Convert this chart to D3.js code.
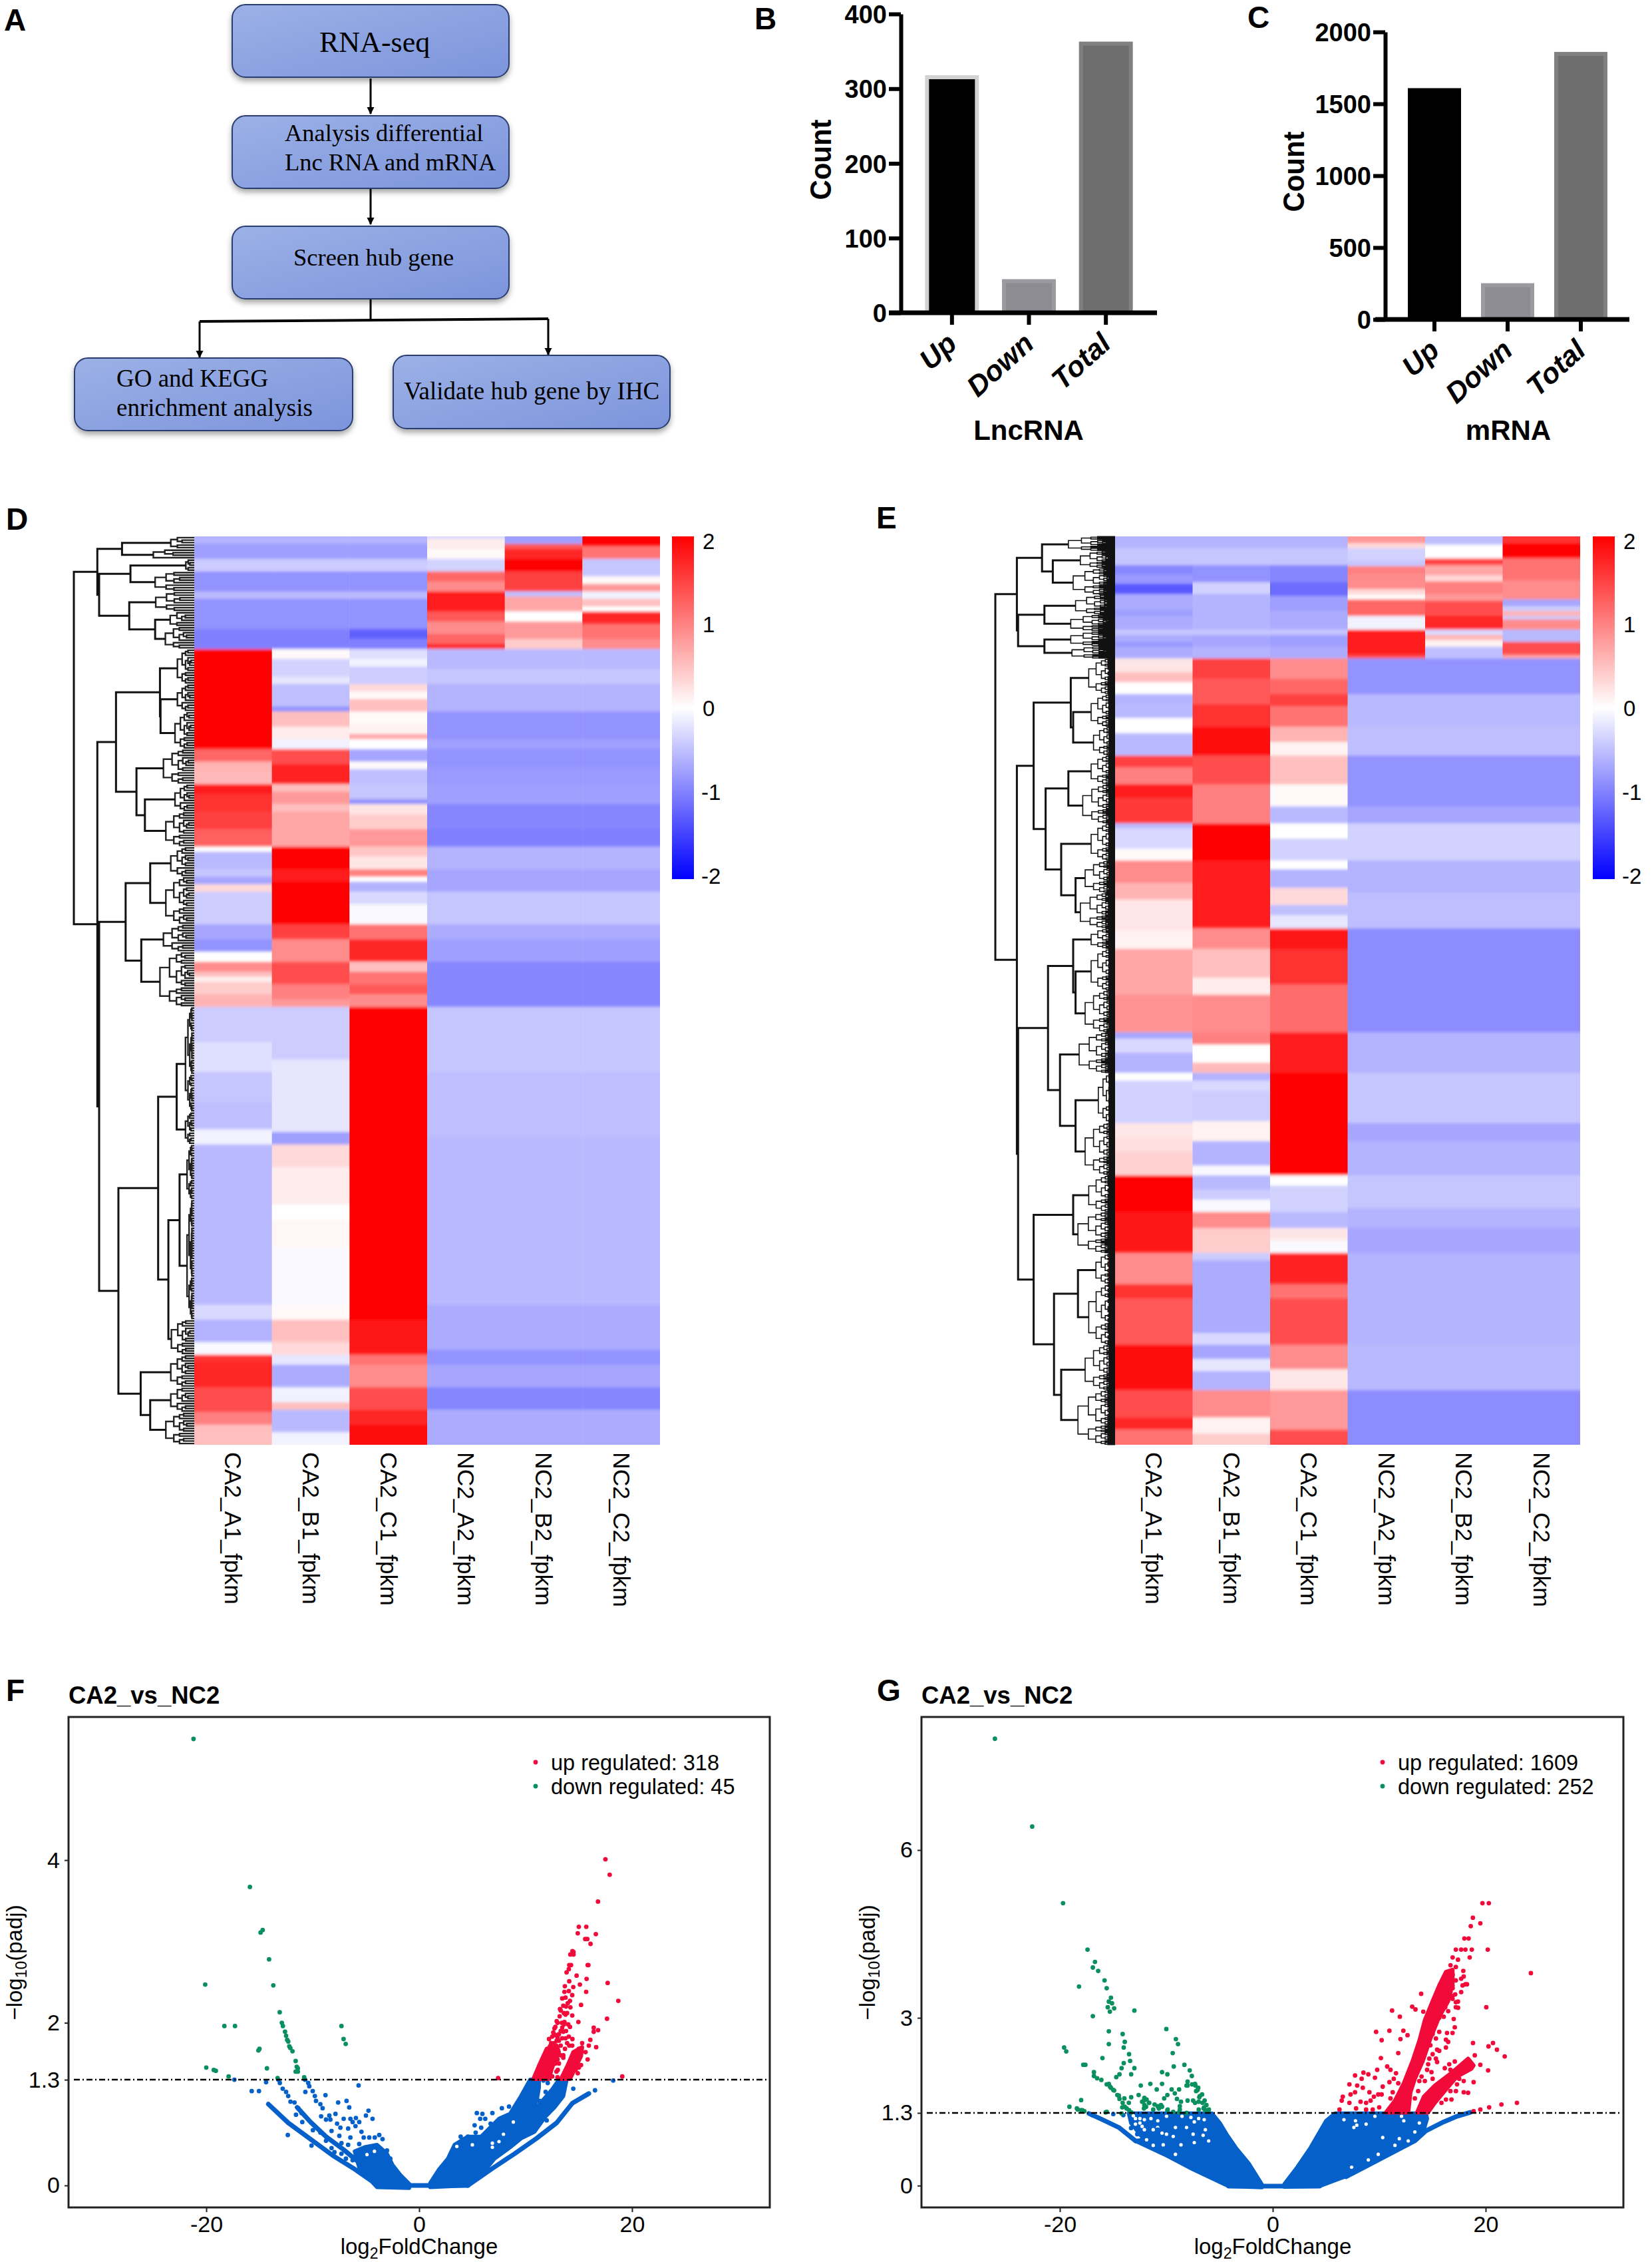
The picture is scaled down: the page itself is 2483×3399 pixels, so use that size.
<!DOCTYPE html>
<html>
<head>
<meta charset="utf-8">
<script src="https://cdnjs.cloudflare.com/ajax/libs/d3/7.8.5/d3.min.js"></script>
<style>
  html, body { margin: 0; background: #fff; }
  text { font-family: "Liberation Sans", Arial, sans-serif; fill: #000; }
  .serif { font-family: "Liberation Serif", "Times New Roman", serif; }
</style>
</head>
<body>
<svg id="fig" width="2483" height="3399"></svg>
<script>
// ---- bars B and C
const barCats = ["Up", "Down", "Total"];
const lncCounts = [318, 45, 363];
const mrnaCounts = [1609, 252, 1861];
const lncTicks = [0, 100, 200, 300, 400];
const mrnaTicks = [0, 500, 1000, 1500, 2000];

// ---- heatmaps: each column is a list of [last row of stripe, z score]
const hmCols = ["CA2_A1_fpkm", "CA2_B1_fpkm", "CA2_C1_fpkm", "NC2_A2_fpkm", "NC2_B2_fpkm", "NC2_C2_fpkm"];
const zTicks = [2, 1, 0, -1, -2];

const dRows = 363;
const dA1 = [[3,-.6],[9,-.75],[14,-.4],[22,-.85],[25,-.55],[37,-.85],[45,-1],[85,2],[90,1.2],[94,.6],[99,.55],[103,1.8],[110,1.6],[117,1.5],[124,1.25],[126,0],[133,-.55],[136,-.45],[139,-.7],[142,.3],[155,-.4],[161,-.7],[166,-.85],[170,0],[174,.9],[176,.5],[178,.1],[183,.4],[188,.6],[202,-.4],[214,-.25],[226,-.45],[237,-.5],[243,-.1],[307,-.55],[313,-.3],[322,-.6],[327,-.05],[330,1.6],[340,1.7],[350,1.4],[355,1],[363,.5]];
const dB1 = [[3,-.6],[9,-.75],[14,-.4],[22,-.85],[25,-.55],[37,-.85],[45,-1],[49,.05],[56,-.35],[59,-.2],[68,-.5],[70,-.85],[76,.5],[81,.15],[85,-.1],[91,1.4],[99,1.75],[102,.5],[107,.8],[110,.5],[117,.7],[124,.7],[133,2],[138,1.8],[155,2],[161,1.5],[170,.9],[179,1.4],[185,1],[188,.8],[209,-.4],[238,-.2],[243,-.75],[252,.3],[267,.15],[273,0],[284,.06],[307,-.05],[313,.05],[322,.5],[327,.3],[331,-.2],[340,-.65],[346,-.1],[349,.5],[358,-.55],[363,-.1]];
const dC1 = [[3,-.6],[9,-.75],[14,-.4],[22,-.85],[25,-.55],[37,-.85],[41,-1.25],[45,-1],[49,-.25],[52,-.1],[59,-.4],[62,.3],[65,.05],[70,.5],[75,.05],[79,.1],[81,.7],[85,0],[90,-.7],[93,.05],[99,-.5],[105,-.45],[107,-.85],[111,.2],[117,.4],[124,.8],[128,.45],[133,.2],[136,1],[138,0],[142,-.6],[147,-.3],[155,-.05],[161,1.1],[170,1.7],[174,.5],[179,1.1],[183,1.3],[188,.9],[313,2],[327,1.85],[331,1.1],[340,.9],[349,1.4],[355,1.7],[363,1.9]];
const dA2Top = [[1,-.3],[5,.15],[9,.05],[14,-.35],[18,1.2],[22,.9],[30,1.8],[34,1.3],[39,.9],[43,1.2],[45,1.7]];
const dB2Top = [[3,-.75],[5,1.3],[9,1.7],[14,2],[22,1.5],[24,-.5],[30,.7],[34,0],[41,.8],[45,.4]];
const dC2Top = [[4,2],[9,1.1],[16,-.45],[19,.05],[22,.8],[25,-.1],[28,.5],[30,0],[35,1.7],[41,1.1],[45,.9]];
const dNcLow = [[53,-.55],[59,-.45],[70,-.6],[81,-.85],[85,-.75],[92,-.85],[99,-.8],[107,-.75],[117,-.95],[124,-1],[133,-.6],[142,-.7],[155,-.45],[161,-.65],[170,-.75],[188,-.95],[214,-.45],[240,-.5],[307,-.55],[325,-.65],[331,-.85],[340,-.7],[349,-.95],[363,-.65]];

const eRows = 1861;
const eA1 = [[24,-.6],[59,-.45],[77,-.95],[97,-.8],[118,-1.3],[150,-.65],[163,-.75],[191,-.65],[202,-.45],[216,-.65],[226,-.8],[250,-.65],[278,.2],[299,.5],[323,0],[344,-.6],[372,-.55],[403,0],[449,-.55],[473,1.5],[508,1],[536,1.8],[588,1.55],[598,-.55],[640,-.3],[664,.05],[710,.9],[744,.6],[807,.2],[845,.1],[939,.7],[1016,.85],[1029,-.7],[1058,-.3],[1099,-.6],[1115,0],[1202,-.35],[1231,.2],[1260,.25],[1309,.35],[1384,2],[1468,1.85],[1532,.9],[1561,1.6],[1656,1.3],[1749,1.9],[1805,1.4],[1830,1.7],[1861,1.1]];
const eB1 = [[24,-.6],[59,-.45],[94,-.85],[118,-.35],[191,-.6],[202,-.45],[226,-.7],[250,-.6],[292,1.5],[344,1.3],[390,1.6],[449,1.9],[508,1.4],[588,1],[664,2],[803,1.8],[845,.9],[904,.5],[939,.15],[1016,.9],[1041,1],[1078,0],[1099,.55],[1115,-.6],[1136,-.3],[1198,-.4],[1239,.1],[1289,-.6],[1309,-.05],[1338,-.55],[1359,-.4],[1384,-.05],[1417,.9],[1468,.4],[1483,-.4],[1632,-.65],[1656,-.3],[1685,-.7],[1710,-.2],[1749,-.6],[1805,.9],[1838,.1],[1861,.4]];
const eC1 = [[24,-.6],[59,-.45],[94,-.95],[122,-1.15],[153,-.75],[191,-.65],[202,-.45],[226,-.75],[250,-.65],[292,.9],[323,1.2],[348,1.5],[390,1.1],[421,.6],[449,.1],[508,.5],[553,.05],[588,-.55],[619,0],[664,-.35],[682,0],[720,-.6],[755,.3],[776,-.5],[803,-.2],[845,1.85],[918,1.6],[1016,1.15],[1099,1.8],[1198,2],[1309,1.95],[1330,0],[1384,-.35],[1417,-.55],[1442,.2],[1468,-.05],[1532,1.75],[1561,1.1],[1656,1.4],[1706,.9],[1749,.2],[1830,.8],[1861,1.4]];
const eA2Top = [[14,.8],[24,.3],[49,-.35],[61,-.45],[77,1],[108,.9],[120,.3],[129,0],[163,1.2],[191,-.1],[243,1.8],[250,1.4]];
const eB2Top = [[17,-.5],[45,0],[59,1.5],[80,.7],[92,.3],[118,1],[132,.8],[163,1.4],[191,1.7],[202,-.3],[212,.6],[226,.1],[250,-.5]];
const eC2Top = [[14,1.6],[45,2],[90,1.1],[129,.9],[143,-.7],[153,-.4],[163,.6],[170,-.4],[191,.9],[216,-.55],[243,1.4],[250,.7]];
const eNcLow = [[323,-.85],[390,-.55],[449,-.5],[553,-.85],[588,-.7],[664,-.35],[730,-.6],[803,-.5],[1016,-.9],[1099,-.6],[1202,-.45],[1239,-.7],[1309,-.6],[1376,-.45],[1417,-.6],[1468,-.7],[1656,-.6],[1749,-.55],[1861,-.9]];

// dendrograms: [height, childA, childB], a lowest read cluster is [height, firstRow, lastRow]
const treeD = [100,
  [80.5, [60,[19.5,0,5],[34,5,9]],
    [79, [53,[7,9,14],[32.5,14,22]], [54,[32,22,30],[32.5,[20,30,36],[24,36,45]]]]],
  [80.5,
    [65, [28.5,[14,45,59],[28,[14,59,70],[16,70,85]]], [48,[25.6,85,99],[41,[16,99,110],[23.6,110,124]]]],
    [79,
      [57, [36.6,[19.5,124,136],[23.6,136,155]], [44,[25.6,155,166],[28.5,166,188]]],
      [63,
        [30, [14.6,[7.3,188,230],[7.3,230,243]], [21.5,[12.2,[6,243,265],[6,265,313]],[19,313,327]]],
        [44.5, [19.5,327,340], [36.6,[19.5,340,350],[23.6,350,363]]]]]]];
const treeE = [100,
  [82, [61,[39,0,30],[52,[29,30,65],[35,65,120]]],
    [81, [59,[33,120,160],[37,160,195]], [59,[37,195,225],[36,225,250]]]],
  [82,
    [68, [37,[22,250,323],[35,[20,323,390],[18,390,449]]],
      [58, [39,[20,449,508],[27,508,588]], [45,[20,588,664],[33,[25,664,730],[29,730,803]]]]],
    [81,
      [56, [35,[20,803,845],[33,[20,845,930],[25,930,1016]]], [46,[30,1016,1099],[33,[14,1099,1202],[25,1202,1309]]]],
      [68, [35,[22,1309,1384],[31,1384,1468]],
        [51, [31,[16,1468,1532],[22,1532,1656]], [45,[25,1656,1749],[31,1749,1861]]]]]]];

// ---- volcano F: [log2FoldChange, -log10(padj)]
const fTicksX = [-20, 0, 20];
const fTicksY = [0, 1.3, 2, 4];
const fDown = [[-21.2,5.49],[-15.9,3.67],[-14.9,3.11],[-14.7,3.14],[-14.1,2.78],[-13.7,2.46],[-20.1,2.47],[-13.1,2.13],[-12.9,2],[-12.8,1.96],[-18.3,1.96],[-17.3,1.96],[-12.6,1.89],[-12.5,1.84],[-12.4,1.79],[-12.3,1.77],[-12.2,1.71],[-12.1,1.69],[-11.9,1.65],[-15,1.68],[-15.1,1.66],[-7.3,1.96],[-7.1,1.8],[-6.9,1.74],[-11.6,1.53],[-11.5,1.46],[-11.4,1.44],[-11.6,1.4],[-11.4,1.4],[-20,1.45],[-19.3,1.42],[-19.1,1.41],[-14.3,1.44],[-17.9,1.34],[-13.3,1.32],[-10.8,1.33]];
const fUp = [[17.5,4.01],[17.9,3.82],[16.8,3.49],[15,3.18],[15.7,3.18],[14.9,3.1],[16.6,3.09],[15.6,3.03],[15.8,3.03],[16.1,2.97],[14.4,2.88],[14.5,2.87],[14.2,2.84],[14.5,2.84],[15.9,2.71],[14.1,2.71],
  [12.5,1.83],[12.71,1.93],[12.92,2.02],[13.23,2.17],[13.54,2.21],[13.75,2.31],[14.06,2.39],[14.38,2.34],[13.65,2.38],[13.44,2.3],[14.17,2.27],[13.96,2.24],[14.21,2.19],[13.75,2.1],[13.65,2.01],[13.44,1.94],[13.54,1.89],[13.13,1.86],[13.44,1.81],[12.92,1.78],[12.71,1.75],[12.29,1.71],[13.13,1.78],[13.75,1.81],[14.06,1.83],[14.17,1.95],[14.38,2.09],[14.96,2.01],[15.21,2.22],[15.69,2.38],[15.1,2.47],[14.48,2.44],[13.69,2.45],[14.1,2.51],[14.79,2.58],[15.73,2.54],[13.85,2.62],[14.06,2.66],[14.27,2.71],[15.83,2.71],[17.71,2.49],[18.71,2.27],[17.65,2.05],[16.4,1.94],[16.81,1.91],[16.4,1.89],[16.08,1.79],[15.94,1.72],[16.63,1.7],[15.31,1.75],[14.38,1.72],[13.54,1.6],[13.54,1.57],[13.02,1.42],[13.13,1.5],[12.5,1.53],[12.19,1.57],[11.88,1.4],[12.5,1.34],[14.9,1.38],[15.21,1.48],[15.83,1.55],[7.42,1.32],[19.08,1.34],[15.63,1.64],[15,1.68],
  [12.2,1.8],[12.4,1.75],[12.6,1.88],[12.8,1.95],[13,2],[13.2,2.08],[13.3,2.15],[13.4,2],[13.3,1.9],[13,1.82],[12.8,1.85],[13.6,2.12],[13.8,2.2],[13.9,2.12],[13.6,1.98],[13.8,1.9],[14,1.98],[13.9,1.75],[13.7,1.68],[13.3,1.72],[14.1,1.72],[12.6,1.65],[13,1.55],[13.3,1.6],[12.8,1.5],[12.9,1.4],[13,1.33],[11.6,1.45],[14.4,1.8],[14.6,1.62],[14.8,1.55],[14.3,1.5],[15,1.45],[14.7,1.42]];
const fUpBands = [
  [[10.73,1.31],[11.35,1.5],[11.98,1.68],[12.92,1.72],[13.13,1.64],[12.5,1.45],[12.19,1.31]],
  [[13.33,1.31],[13.96,1.48],[14.48,1.64],[15.31,1.7],[15.21,1.59],[14.58,1.42],[14.17,1.31]]];
const fNs = [[-17.36,1.3],[-15.73,1.16],[-15.05,1.16],[-14.38,1.27],[-5.69,1.23],[-12.34,.62],[-10.11,.49],[-13.23,1.3],[-13.09,1.26],[-12.82,1.19],[-12.5,1.15],[-12.3,1.1],[-12.09,1.03],[-11.71,1.02],[-11.36,.95],[-11.05,.89],[-11.57,.87],[-10.98,.78],[-10.73,1.3],[-10.42,1.26],[-10.32,1.22],[-10.69,1.15],[-10,1.16],[-9.8,1.1],[-9.69,1.04],[-9.28,1],[-9.07,.95],[-8.8,1.11],[-9.21,.85],[-8.44,.86],[-8.34,.81],[-8.75,.81],[-7.86,.88],[-7.61,1.02],[-6.82,1.04],[-6.57,.96],[-7.09,.82],[-7.71,.76],[-7.4,.71],[-8.23,.67],[-7.5,.61],[-6.46,.82],[-5.94,.83],[-6.25,.78],[-5.63,.78],[-5.98,.73],[-4.76,.92],[-5,.86],[-4.38,.82],[-3.75,.62],[-3.44,.57],[-4.17,.59],[-5.42,.66],[-6.67,.7],[-6.46,.59],[-5.21,.59],[-4.69,.59],[-3.02,.43],[-2.71,.33],[-5.63,.51],[-6.67,.5],[-7.3,.52],[-8.23,.46],[-7.96,.41],[-7.3,.39],[-8.75,.55],[-9.98,.68],[-9.28,.65],[-6.88,.33],[-6.25,.31],
  [18.23,1.29],[16.52,1.17],[14.48,1.19],[11.67,1.29],[12.08,1.26],[11.88,1.15],[11.31,1.04],[10.63,.92],[11.98,.8],[5.42,.89],[5.94,.88],[6.88,.89],[7.77,.95],[8.44,.97],[5.73,.82],[6.21,.82],[6.71,.76],[5.21,.74],[5.83,.71],[5.31,.65],[3.9,.6],[4.58,.6]];
const fNsMass = [
  [[1.04,.03],[1.88,.2],[2.71,.33],[3.33,.5],[4.58,.6],[5.83,.6],[7.5,.82],[8.54,.88],[9.58,1.1],[10.42,1.3],[11.25,1.3],[11.25,1.2],[11.04,1.04],[9.79,.82],[8.96,.7],[11.25,.99],[12.5,1.18],[13.13,1.3],[13.85,1.3],[13.54,1.1],[12.71,.96],[11.88,.85],[10.83,.66],[9.58,.58],[8.54,.47],[7.08,.33],[6.25,.2],[4.38,0],[1.04,-.02]],
  [[-.94,.02],[-1.78,.13],[-2.5,.25],[-3.03,.39],[-3.96,.5],[-5.11,.47],[-6.05,.42],[-5.63,.22],[-3.96,-.02],[-.94,-.03]]];
const fNsTrails = [
  [[4.58,0],[6.88,.21],[8.96,.39],[11.04,.58],[12.92,.77],[14.38,1.01],[15.94,1.13]],
  [[-14.17,1],[-12.3,.77],[-10.21,.57],[-8.13,.37],[-6.05,.2],[-3.96,.01]],
  [[-11.46,.96],[-10.21,.78],[-8.75,.6],[-7.09,.44],[-5.63,.28]],
  [[-3.96,0],[4.58,0]]];
const fNsGaps = [[6.88,.52],[7.5,.54],[7.92,.63],[8.85,.78],[3.54,.48],[5,.5],[6.88,.47],[-4.9,.38],[-4.2,.42]];

// ---- volcano G
const gTicksX = [-20, 0, 20];
const gTicksY = [0, 1.3, 3, 6];
const gDown = [[-26.1,7.99],[-22.6,6.42],[-19.7,5.05],[-17.4,4.22],[-16.7,4],[-16.9,3.9],[-16.4,3.84],[-15.8,3.67],[-15.6,3.53],[-18.2,3.56],[-15.2,3.36],[-15.4,3.29],[-15.1,3.26],[-15.5,3.19],[-14.9,3.17],[-15.3,3.11],[-13,3.13],[-16.9,3.03],[-15.4,2.76],[-14.1,2.71],[-13.9,2.57],[-15.4,2.53],[-14,2.47],[-10,2.8],[-9.1,2.62],[-8.9,2.53],[-9.4,2.37],[-19.6,2.47],[-19.4,2.4],[-13.5,2.35],[-16,2.28],[-13.4,2.23],[-14,2.19],[-14.2,2.1],[-17.8,2.16],[-17.6,2.16],[-13,2.1],[-13.3,1.99],[-14.4,1.99],[-14.7,1.94],[-16.8,2.03],[-16.5,1.92],[-16.1,1.89],[-16.8,1.96],[-8.3,2.16],[-9.3,2.13],[-7.8,2.06],[-7.6,1.96],[-10.4,2.03],[-9.9,1.99],[-8,1.86],[-7.3,1.82],[-8,1.79],[-7,1.75],[-10.4,1.82],[-11.5,1.82],[-12.4,1.79],[-7.2,1.69],[-6.9,1.58],[-6.6,1.48],[-7.3,1.48],[-6.5,1.38],[-6.1,1.35],[-6.4,1.52],[-9.5,1.72],[-9.2,1.65],[-8.8,1.72],[-9.9,1.62],[-10.2,1.56],[-9,1.55],[-10.9,1.72],[-15.4,1.82],[-15.2,1.75],[-14.9,1.7],[-14.6,1.62],[-14.4,1.55],[-14.1,1.48],[-13.9,1.41],[-13.5,1.35],[-13.3,1.31],[-13.3,1.58],[-12.6,1.62],[-12.1,1.52],[-11.6,1.48],[-11.1,1.45],[-11.9,1.41],[-10.7,1.38],[-12.1,1.38],[-10.4,1.41],[-9.9,1.35],[-19.1,1.41],[-18,1.53],[-18.4,1.38],[-18,1.35],[-17.7,1.33],[-15.7,1.31],[-14.2,1.29],[-8.8,1.31],
  [-6,1.36],[-6.44,1.4],[-6.85,1.6],[-7.06,1.71],[-7.27,1.79],[-6.96,1.5],[-6.64,1.63],[-6.23,1.44],[-11.23,1.36],[-11.64,1.48],[-12.06,1.44],[-12.27,1.5],[-11.85,1.54],[-10.81,1.42],[-10.5,1.44],[-14.14,1.4],[-13.73,1.38],[-13.52,1.48],[-13.94,1.56],[-14.46,1.61],[-14.98,1.71],[-15.29,1.77],[-15.6,1.81],[-12.06,1.57],[-18.31,1.36],[-17.89,1.35],[-15.6,1.32],[-9.87,1.36],[-9.35,1.32],[-8.73,1.36],[-8.1,1.3],[-6.96,1.36],[-6.33,1.34],[-7.58,1.81],[-8.1,1.79],[-7.48,1.52],[-8,1.52],[-8.62,1.5],[-8.73,1.42]];
const gUp = [[19.7,5.05],[20.3,5.05],[18.8,4.79],[18.6,4.64],[19.5,4.69],[18,4.42],[18.4,4.42],[17.2,4.22],[17.7,4.22],[18.1,4.22],[18.7,4.22],[20.2,4.22],[16.9,4.08],[17.4,4.04],[16.7,3.94],[17.2,3.91],[18.5,4.08],[16.5,3.8],[16.9,3.77],[17.9,3.84],[16.5,3.67],[17.2,3.67],[17.7,3.7],[18.1,3.6],[16.9,3.53],[16.2,3.43],[16.9,3.39],[17.7,3.46],[17.4,3.29],[17.2,3.19],[16.2,3.19],
  [15.02,2.71],[15.64,2.75],[15.33,2.63],[14.81,2.51],[15.44,2.43],[15.64,2.41],[15.02,2.35],[15.33,2.27],[15.44,2.21],[14.71,2.27],[14.6,2.17],[14.5,2.07],[14.91,2.03],[13.98,1.95],[14.29,1.87],[13.77,1.87],[15.02,1.91],[13.66,1.69],[13.35,1.56],[16.27,2.61],[16.48,2.57],[16.27,2.47],[16.89,2.73],[16.37,2.73],[17.1,2.83],[17,2.98],[16.48,3.12],[17.41,3.18],[17.14,3.42],[17.83,3.58],[18.25,3.6],[17.94,3.74],[15.64,3],[16.06,3.02],[17.2,3.28],[16.89,3.34],[16.06,3.18],[16.69,3.46],[16.89,3.58],
  [17.52,1.91],[17.31,1.81],[16.69,1.69],[17.21,1.69],[17.94,1.67],[18.35,1.66],[16.79,1.54],[16.27,1.54],[15.85,1.48],[17.94,1.87],[18.87,1.85],[19.5,2.16],[20.23,2.06],[16.16,2.1],[16.58,2.17],[17.1,2.22],[16.69,2.07],[18.98,2.33],[18.81,2.55],
  [6.27,1.36],[6.48,1.52],[6.58,1.59],[7.2,1.48],[7.31,1.63],[7.2,1.81],[7.93,1.79],[7.73,1.67],[8.46,1.75],[8.25,1.5],[8.77,1.48],[9.19,1.52],[9.5,1.59],[9.08,1.67],[9.91,1.63],[10.33,1.77],[10.23,1.63],[7.83,1.38],[8.77,1.36],[9.39,1.36],[10,1.4],[11.06,1.56],[11.27,1.67],[11.79,1.83],[10.96,1.85],[11.37,1.91],[11.58,2.01],[11.06,2.07],[10.75,2.13],[9.81,2.07],[9.6,1.93],[8.98,1.99],[8.52,2.02],[7.73,1.97],[8.35,1.91],
  [9.71,2.75],[10.23,2.6],[10.96,2.77],[11.21,3.13],[11.94,3.02],[12.27,2.77],[12.66,2.69],[12,2.62],[11.79,2.37],[10.16,2.28],[13.1,3.2],[13.41,3.15],[13.94,3.43],[14.14,3.11],[24.25,3.8],[20.06,3.19],[20.69,2.55],[20.27,2.49],[21.06,2.43],[21.79,2.31],[22.94,1.48],[21.48,1.45],[20.33,1.4],[19.5,1.36],[18.87,1.33]];
const gUpBands = [
  [[10.64,1.31],[11.48,1.52],[12.31,1.83],[13.14,2.23],[13.77,2.59],[14.29,2.96],[15.02,3.3],[15.64,3.58],[16.27,3.82],[16.89,3.86],[16.9,3.62],[16.48,3.3],[15.64,3.02],[14.81,2.63],[14.1,2.23],[13.35,1.91],[12.94,1.67],[12.73,1.31]],
  [[13.56,1.31],[14.19,1.59],[15.23,1.79],[16.89,2.03],[18.35,2.27],[18.87,2.15],[18.66,2.09],[17.31,1.95],[16.06,1.67],[15.23,1.48],[14.6,1.31]]];
const gNs = [[-13.31,1.03],[-12.73,.92],[-14.98,1.28],[-14.04,1.26],[-16.96,1.26],[-9.14,1.14],[-10.81,1],[-11.9,1.1],[-8.1,1.14]];
const gNsMass = [
  [[1.1,.03],[2.31,.33],[3.56,.68],[5.02,1.16],[5.85,1.29],[14.39,1.29],[14.5,1.2],[14.19,1],[13.56,.86],[11.48,.64],[6.89,.17],[4.39,-.01],[1.1,-.02]],
  [[-1.02,.02],[-2.27,.4],[-3.41,.66],[-4.35,.92],[-4.98,1.12],[-5.71,1.29],[-13.52,1.29],[-13.31,1.12],[-12.48,.92],[-12.06,.82],[-12.89,.8],[-10.19,.56],[-7.48,.29],[-4.14,-.01],[-1.02,-.03]]];
const gNsTrails = [
  [[6.89,.16],[13.35,.8],[14.39,.98],[16.06,1.14],[17.31,1.24],[18.56,1.31]],
  [[-17.27,1.29],[-16.23,1.2],[-14.46,1.04],[-12.89,.8]],
  [[-4.14,-.01],[4.39,-.01]]];
const gNsGaps = [[-7.37,1.14],[-6.44,1.18],[-6.33,1],[-7.48,.92],[-6.54,.9],[-6.02,.8],[-7.37,.77],[-8.62,.73],[-10.29,.73],[-11.23,.72],[-9.14,.56],[-9.98,.92],[-10.81,1.04],[-9.35,.88],[-8.1,1.04],[-11.23,1],[-12.06,1],[-12.48,1.12],[-11.85,.82],[-10.4,.94],[-9.98,1.24],[-11.44,1.2],[-12.48,1.2],[-12.27,1.06],[-9.14,1.04],[-8.52,1.24],[-7.69,1.22],[-6.96,1.2],[-12.9,1.2],[-12.9,1.1],[-13.1,1.25],[-10.8,1.16],[-12.06,1.18],
  [7.77,1.16],[7.89,1.08],[7.62,1.04],[8.77,1.1],[9.6,1.24],[12.1,1.24],[12.31,1.16],[6.69,1.18],[10.33,.86],[13.77,1.12],[13.35,.96],[7.41,.33],[8.98,.46],[9.91,.56],[11.48,.72],[12.73,.8],[11.89,.84]];

// ---- flow chart
const flowBoxes = [
  { x: 349, y: 7, w: 416, h: 109, lines: [["RNA-seq", 480, 78, 44]] },
  { x: 349, y: 174, w: 416, h: 109, lines: [["Analysis differential", 428, 212, 36.5], ["Lnc RNA and mRNA", 428, 256, 36.5]] },
  { x: 349, y: 340, w: 416, h: 109, lines: [["Screen hub gene", 441, 399, 36.5]] },
  { x: 112, y: 538, w: 418, h: 109, lines: [["GO and KEGG", 175, 581, 37], ["enrichment analysis", 175, 625, 37]] },
  { x: 591, y: 534, w: 416, h: 110, lines: [["Validate hub gene by IHC", 607, 600, 37]] }
];

const svg = d3.select("#fig");
const defs = svg.append("defs");
const zColor = d3.scaleLinear().domain([-2, 0, 2]).range(["#0000ff", "#ffffff", "#ff0000"]);

const boxFill = defs.append("linearGradient").attr("id", "boxFill")
  .attr("x1", 0).attr("y1", 0).attr("x2", 1).attr("y2", 1);
boxFill.append("stop").attr("offset", 0).attr("stop-color", "#9cb1e6");
boxFill.append("stop").attr("offset", 1).attr("stop-color", "#7c94dc");
const shadow = defs.append("filter").attr("id", "boxShadow")
  .attr("x", "-5%").attr("y", "-5%").attr("width", "110%").attr("height", "125%");
shadow.append("feDropShadow").attr("dx", 0).attr("dy", 5).attr("stdDeviation", 4)
  .attr("flood-color", "#000").attr("flood-opacity", 0.35);
defs.append("marker").attr("id", "head").attr("viewBox", "0 0 10 10")
  .attr("refX", 9).attr("refY", 5).attr("markerUnits", "userSpaceOnUse")
  .attr("markerWidth", 11).attr("markerHeight", 12).attr("orient", "auto")
  .append("path").attr("d", "M0,0L10,5L0,10Z").attr("fill", "#000");
defs.append("filter").attr("id", "stripeBlur")
  .attr("x", "-1%").attr("y", "-2%").attr("width", "102%").attr("height", "104%")
  .append("feGaussianBlur").attr("stdDeviation", "0 2.2");

function panelLetter(s, x, y) {
  svg.append("text").text(s).attr("x", x).attr("y", y)
    .attr("font-size", 46).attr("font-weight", "bold");
}

function drawFlow() {
  const g = svg.append("g");
  const conn = [
    [[557, 118], [557, 171]],
    [[557, 283], [557, 337]]
  ];
  conn.forEach((c) => {
    g.append("path").attr("d", d3.line()(c)).attr("stroke", "#000").attr("stroke-width", 3)
      .attr("marker-end", "url(#head)");
  });
  g.append("path").attr("d", "M557,449V481").attr("stroke", "#000").attr("stroke-width", 3);
  g.append("path").attr("d", "M300,483L824,479").attr("stroke", "#000").attr("stroke-width", 4);
  g.append("path").attr("d", "M300,483V537").attr("stroke", "#000").attr("stroke-width", 3)
    .attr("marker-end", "url(#head)");
  g.append("path").attr("d", "M824,479V533").attr("stroke", "#000").attr("stroke-width", 3)
    .attr("marker-end", "url(#head)");

  flowBoxes.forEach((b) => {
    g.append("rect").attr("x", b.x).attr("y", b.y).attr("width", b.w).attr("height", b.h)
      .attr("rx", 20).attr("ry", 20).attr("fill", "url(#boxFill)")
      .attr("stroke", "#2c3c70").attr("stroke-width", 2)
      .attr("filter", "url(#boxShadow)");
    b.lines.forEach((l) => {
      g.append("text").attr("class", "serif").text(l[0]).attr("x", l[1]).attr("y", l[2])
        .attr("font-size", l[3]);
    });
  });
}

function barPanel(o) {
  const g = svg.append("g");
  const y = d3.scaleLinear().domain([0, o.ticks[o.ticks.length - 1]]).range([o.y0, o.y1]);
  const x = d3.scaleBand().domain(barCats).range(o.xr).paddingInner(o.pad).paddingOuter(o.pad / 2);
  const fills = ["#000000", "#8d8c92", "#6e6e6e"];

  g.selectAll("rect").data(o.values).enter().append("rect")
    .attr("x", (d, i) => x(barCats[i]) + 3)
    .attr("y", (d) => y(d) + 3)
    .attr("width", x.bandwidth() - 6)
    .attr("height", (d) => y(0) - y(d) - 3)
    .attr("fill", (d, i) => fills[i])
    .attr("stroke", (d, i) => o.strokes[i])
    .attr("stroke-width", 6);

  const ya = g.append("g").attr("transform", `translate(${o.axisX},0)`)
    .call(d3.axisLeft(y).tickValues(o.ticks).tickFormat((d) => d).tickSize(18).tickSizeOuter(0).tickPadding(3));
  ya.selectAll("path,line").attr("stroke", "#000").attr("stroke-width", 6);
  ya.selectAll("text").attr("font-size", 38).attr("dy", ".36em").attr("font-weight", "bold").attr("font-family", "Liberation Sans").attr("fill", "#000");

  const xa = g.append("g").attr("transform", `translate(0,${o.y0})`)
    .call(d3.axisBottom(x).tickSize(18).tickSizeOuter(0));
  xa.select(".domain").remove();
  xa.selectAll("line").attr("stroke", "#000").attr("stroke-width", 6);
  xa.selectAll("text").attr("font-size", 43).attr("font-weight", "bold").attr("font-style", "italic")
    .attr("font-family", "Liberation Sans").attr("fill", "#000")
    .attr("text-anchor", "end").attr("dy", 0).attr("y", 0)
    .attr("transform", "translate(10,50) rotate(-42)");
  g.append("line").attr("x1", o.lineX[0]).attr("x2", o.lineX[1]).attr("y1", o.y0).attr("y2", o.y0)
    .attr("stroke", "#000").attr("stroke-width", 7);

  g.append("text").text("Count").attr("transform", `translate(${o.countX},${o.countY}) rotate(-90)`)
    .attr("text-anchor", "middle").attr("font-size", 44).attr("font-weight", "bold")
    .attr("textLength", 121).attr("lengthAdjust", "spacingAndGlyphs");
  g.append("text").text(o.title).attr("x", o.titleX).attr("y", 661).attr("text-anchor", "middle")
    .attr("font-size", 42).attr("font-weight", "bold");
}

function heatPanel(o) {
  const g = svg.append("g");
  const x = d3.scaleBand().domain(hmCols).range(o.xr);
  const y = d3.scaleLinear().domain([0, o.rows]).range([806, 2171]);

  const clipId = "clip" + o.letter;
  defs.append("clipPath").attr("id", clipId).append("rect")
    .attr("x", o.xr[0]).attr("y", 806).attr("width", o.xr[1] - o.xr[0]).attr("height", 1365);
  const cols = g.append("g").attr("clip-path", `url(#${clipId})`)
    .selectAll(".col").data(o.columns).enter().append("g")
    .attr("transform", (d, i) => `translate(${x(hmCols[i])},0)`)
    .attr("filter", "url(#stripeBlur)");
  cols.each(function (stripes) {
    const col = d3.select(this);
    let start = 0;
    stripes.forEach((s, i) => {
      // first and last stripe run past the edge so the blur stays solid there
      const top = i === 0 ? y(start) - 12 : y(start);
      const bot = i === stripes.length - 1 ? y(s[0]) + 12 : y(s[0]) + 0.5;
      col.append("rect").attr("x", 0).attr("width", x.bandwidth() + 0.5)
        .attr("y", top).attr("height", bot - top).attr("fill", zColor(s[1]));
      start = s[0];
    });
  });

  g.selectAll(".clab").data(hmCols).enter().append("text").text((d) => d)
    .attr("transform", (d) => `translate(${x(d) + x.bandwidth() / 2},2182) rotate(90)`)
    .attr("dominant-baseline", "central").attr("font-size", 35.5);

  // dendrogram
  const h = d3.scaleLinear().domain([0, 100]).range(o.treeX);
  const big = d3.path(), small = d3.path();
  const link = (p, node, a, b) => {
    p.moveTo(h(a.h), y(a.row)); p.lineTo(h(node), y(a.row)); p.lineTo(h(node), y(b.row)); p.lineTo(h(b.h), y(b.row));
  };
  // inside a read cluster the single merges can't be read, so just comb it down to the rows
  function comb(r0, r1, ht, flip) {
    if (r1 - r0 <= 1) return { row: (r0 + r1) / 2, h: 0 };
    const cut = r0 + Math.max(1, Math.round((r1 - r0) * (flip ? 0.36 : 0.64)));
    const next = Math.max(o.minH, ht * 0.72);
    const a = comb(r0, cut, next, !flip), b = comb(cut, r1, next, !flip);
    link(small, ht, a, b);
    return { row: (a.row + b.row) / 2, h: ht };
  }
  function walk(n) {
    if (typeof n[1] === "number") return comb(n[1], n[2], n[0], false);
    const a = walk(n[1]), b = walk(n[2]);
    link(big, n[0], a, b);
    return { row: (a.row + b.row) / 2, h: n[0] };
  }
  walk(o.tree);
  g.append("path").attr("d", small.toString()).attr("fill", "none").attr("stroke", o.twigColor).attr("stroke-width", o.twig);
  g.append("path").attr("d", big.toString()).attr("fill", "none").attr("stroke", "#111").attr("stroke-width", 3);

  // colour key
  const id = "key" + o.letter;
  const grad = defs.append("linearGradient").attr("id", id).attr("x1", 0).attr("y1", 0).attr("x2", 0).attr("y2", 1);
  [2, 0, -2].forEach((v, i) => grad.append("stop").attr("offset", i / 2).attr("stop-color", zColor(v)));
  g.append("rect").attr("x", o.keyX).attr("y", 806).attr("width", 33).attr("height", 515).attr("fill", `url(#${id})`);
  const kz = d3.scaleLinear().domain([2, -2]).range([813, 1316]);
  g.selectAll(".kt").data(zTicks).enter().append("text").text((d) => d)
    .attr("x", (d) => o.keyX + 46 - (d < 0 ? 2 : 0)).attr("y", (d) => kz(d))
    .attr("dominant-baseline", "central").attr("font-size", 33);
}

function volcano(o) {
  const g = svg.append("g");
  const x = d3.scaleLinear().domain(o.xd).range([o.box[0], o.box[1]]);
  const y = d3.scaleLinear().domain(o.yd).range([3317, 2580]);
  const lineGen = d3.line().x((d) => x(d[0])).y((d) => y(d[1]));
  const blue = "#0561c9", red = "#f20a3a", green = "#0a8f5f";
  const poly = (pts, col) => g.append("path").attr("d", lineGen(pts) + "Z").attr("fill", col)
    .attr("stroke", col).attr("stroke-width", 6).attr("stroke-linejoin", "round");
  const dots = (pts, col, r) => g.append("g").selectAll("circle").data(pts).enter().append("circle")
    .attr("cx", (d) => x(d[0])).attr("cy", (d) => y(d[1])).attr("r", r || 3.4).attr("fill", col);

  o.mass.forEach((p) => poly(p, blue));
  o.trails.forEach((p) => g.append("path").attr("d", lineGen(p)).attr("fill", "none").attr("stroke", blue)
    .attr("stroke-width", 7).attr("stroke-linecap", "round").attr("stroke-linejoin", "round"));
  dots(o.gaps, "#fff", 2.6);
  dots(o.ns, blue);
  o.bands.forEach((p) => poly(p, red));
  dots(o.up, red);
  dots(o.down, green);

  g.append("line").attr("x1", x.range()[0] + 8).attr("x2", x.range()[1] - 5).attr("y1", y(1.3)).attr("y2", y(1.3))
    .attr("stroke", "#000").attr("stroke-width", 2.5).attr("stroke-dasharray", "9,4,2,4");
  g.append("rect").attr("x", o.box[0]).attr("y", 2580).attr("width", o.box[1] - o.box[0]).attr("height", 737)
    .attr("fill", "none").attr("stroke", "#222").attr("stroke-width", 3);

  const xa = g.append("g").attr("transform", "translate(0,3317)")
    .call(d3.axisBottom(x).tickValues(o.tx).tickFormat((d) => d).tickSize(7).tickSizeOuter(0).tickPadding(6));
  const ya = g.append("g").attr("transform", `translate(${o.box[0]},0)`)
    .call(d3.axisLeft(y).tickValues(o.ty).tickFormat((d) => d).tickSize(6).tickSizeOuter(0).tickPadding(7));
  [xa, ya].forEach((a) => {
    a.select(".domain").remove();
    a.selectAll("line").attr("stroke", "#222").attr("stroke-width", 2);
    a.selectAll("text").attr("font-size", 34).attr("font-family", "Liberation Sans").attr("fill", "#000");
  });

  g.append("text").text("CA2_vs_NC2").attr("x", o.box[0]).attr("y", 2560).attr("font-size", 36.5).attr("font-weight", "bold");

  const xl = g.append("text").attr("x", x(0)).attr("y", 3387).attr("text-anchor", "middle").attr("font-size", 33);
  xl.append("tspan").text("log");
  xl.append("tspan").text("2").attr("font-size", 23).attr("dy", 7);
  xl.append("tspan").text("FoldChange").attr("dy", -7);

  const yl = g.append("text").attr("transform", `translate(${o.yLabX},2949) rotate(-90)`)
    .attr("text-anchor", "middle").attr("font-size", 33);
  yl.append("tspan").text("\u2212log");
  yl.append("tspan").text("10").attr("font-size", 23).attr("dy", 7);
  yl.append("tspan").text("(padj)").attr("dy", -7);

  o.legend.forEach((l, i) => {
    const ly = [2660, 2696][i];
    g.append("circle").attr("cx", o.legX).attr("cy", ly - 12).attr("r", 3.4).attr("fill", i ? green : red);
    g.append("text").text(l).attr("x", o.legX + 23).attr("y", ly).attr("font-size", 32.5);
  });
}

panelLetter("A", 6, 46);
panelLetter("B", 1134, 44);
panelLetter("C", 1875, 42);
panelLetter("D", 9, 796);
panelLetter("E", 1317, 794);
panelLetter("F", 9, 2556);
panelLetter("G", 1318, 2556);

drawFlow();

barPanel({
  values: lncCounts, ticks: lncTicks, strokes: ["#d2d2d2", "#9b9a9f", "#808080"],
  y0: 470, y1: 21, axisX: 1354, xr: [1373, 1720], pad: 0.3, lineX: [1336, 1739],
  countX: 1249, countY: 240, title: "LncRNA", titleX: 1546
});
barPanel({
  values: mrnaCounts, ticks: mrnaTicks, strokes: ["#000000", "#9b9a9f", "#808080"],
  y0: 480, y1: 48, axisX: 2082, xr: [2101, 2431], pad: 0.273, lineX: [2067, 2449],
  countX: 1960, countY: 258, title: "mRNA", titleX: 2267
});

heatPanel({
  letter: "D", rows: dRows, xr: [292, 992], keyX: 1010, treeX: [292, 111], tree: treeD, minH: 2, twig: 2.4, twigColor: "#222",
  columns: [dA1, dB1, dC1, dA2Top.concat(dNcLow), dB2Top.concat(dNcLow), dC2Top.concat(dNcLow)]
});
heatPanel({
  letter: "E", rows: eRows, xr: [1676, 2375], keyX: 2394, treeX: [1676, 1496], tree: treeE, minH: 5, twig: 1.6, twigColor: "#111",
  columns: [eA1, eB1, eC1, eA2Top.concat(eNcLow), eB2Top.concat(eNcLow), eC2Top.concat(eNcLow)]
});

volcano({
  box: [103, 1157], xd: [-32.94, 32.94], yd: [-0.27, 5.76], tx: fTicksX, ty: fTicksY,
  mass: fNsMass, trails: fNsTrails, gaps: fNsGaps, ns: fNs, bands: fUpBands, up: fUp, down: fDown,
  yLabX: 33, legX: 805, legend: ["up regulated: 318", "down regulated: 45"]
});
volcano({
  box: [1385, 2440], xd: [-33, 32.94], yd: [-0.39, 8.38], tx: gTicksX, ty: gTicksY,
  mass: gNsMass, trails: gNsTrails, gaps: gNsGaps, ns: gNs, bands: gUpBands, up: gUp, down: gDown,
  yLabX: 1315, legX: 2078, legend: ["up regulated: 1609", "down regulated: 252"]
});
</script>
</body>
</html>
